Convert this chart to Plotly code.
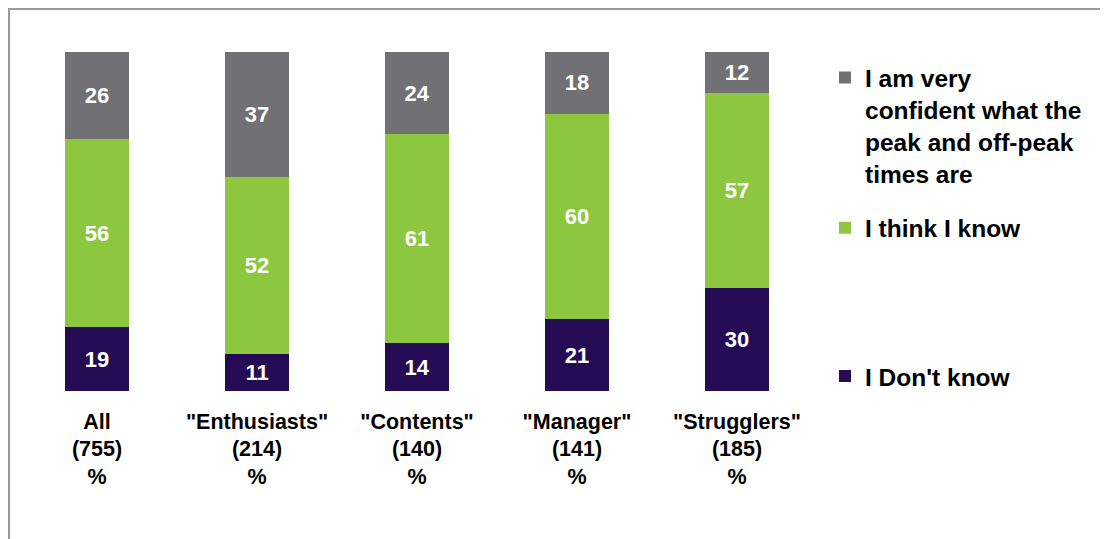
import plotly.graph_objects as go

categories = ['All<br>(755)<br>%', '"Enthusiasts"<br>(214)<br>%', '"Contents"<br>(140)<br>%',
              '"Manager"<br>(141)<br>%', '"Strugglers"<br>(185)<br>%']
dont_know = [19, 11, 14, 21, 30]
think_know = [56, 52, 61, 60, 57]
very_confident = [26, 37, 24, 18, 12]

names = ["I Don't know", "I think I know",
         "I am very<br>confident what the<br>peak and off-peak<br>times are"]
colors = ["#250A54", "#8DC63F", "#717075"]
series = [dont_know, think_know, very_confident]
legends = ["legend3", "legend2", "legend"]

FONT = "Arial, Liberation Sans, sans-serif"

W, H = 1100, 531
L, R, T, B = 9, 291, 44, 148
PW, PH = W - L - R, H - T - B

fig = go.Figure()
for vals, name, col, lg in zip(series, names, colors, legends):
    fig.add_trace(go.Bar(
        x=categories, y=vals, name=name, marker=dict(color=col, line=dict(width=0)),
        text=vals, texttemplate="%{text}", textposition="inside",
        insidetextanchor="middle", textangle=0, constraintext="none",
        textfont=dict(color="white", size=22, family=FONT, weight="bold"),
        legend=lg, showlegend=True,
    ))

legend_common = dict(font=dict(family=FONT, size=24.5, color="black", weight="bold"),
                     bgcolor="rgba(0,0,0,0)", valign="top",
                     xanchor="left", yanchor="middle", x=1.01)

fig.update_layout(
    barmode="stack", barnorm="percent", bargap=0.6,
    width=W, height=H,
    margin=dict(l=L, r=R, t=T, b=B, autoexpand=False),
    paper_bgcolor="white", plot_bgcolor="white",
    font=dict(family=FONT, color="black"),
    showlegend=True,
    xaxis=dict(showline=False, showgrid=False, ticks="", ticklabelstandoff=15,
               tickfont=dict(family=FONT, size=21.5, color="black", weight="bold")),
    yaxis=dict(range=[0, 100], visible=False, showgrid=False),
    legend=dict(**legend_common, y=0.783),
    legend2=dict(**legend_common, y=0.481),
    legend3=dict(**legend_common, y=0.044),
    shapes=[dict(type="rect", xref="paper", yref="paper",
                 x0=(1 - L) / PW, x1=(W + 20 - L) / PW,
                 y0=-(B + 20) / PH, y1=(PH + T - 1) / PH,
                 line=dict(color="#9a9a9a", width=2), fillcolor="rgba(0,0,0,0)",
                 layer="below")],
)

fig.write_html("out.html")
